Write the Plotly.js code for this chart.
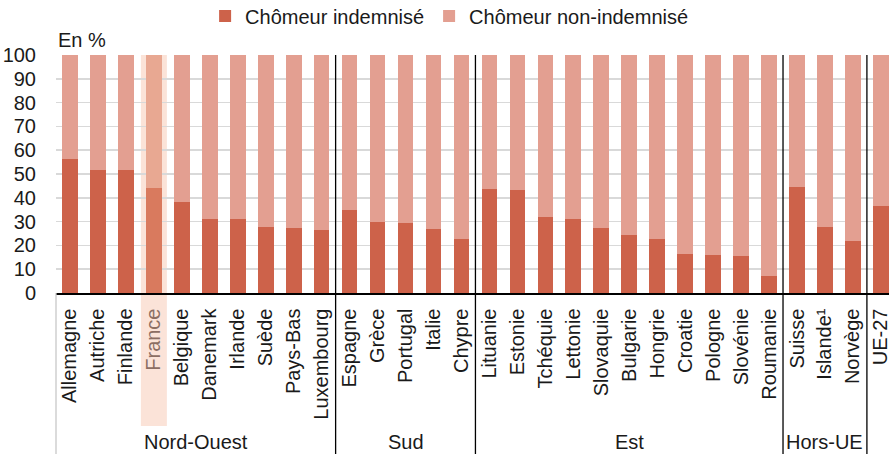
<!DOCTYPE html>
<html>
<head>
<meta charset="utf-8">
<script src="https://cdn.plot.ly/plotly-3.0.1.min.js"></script>
<style>html,body{margin:0;padding:0;background:#fff;}#chart{width:889px;height:454px;}</style>
</head>
<body>
<div id="chart"></div>
<script>
// Categories (countries), in display order
const countries = ["Allemagne","Autriche","Finlande","France","Belgique","Danemark","Irlande","Suède","Pays-Bas","Luxembourg",
  "Espagne","Grèce","Portugal","Italie","Chypre",
  "Lituanie","Estonie","Tchéquie","Lettonie","Slovaquie","Bulgarie","Hongrie","Croatie","Pologne","Slovénie","Roumanie",
  "Suisse","Islande¹","Norvège","UE-27"];
// Share of unemployed receiving benefits (%)
const indemnise = [56.4,51.7,51.7,44.3,38.4,31.3,31.3,27.8,27.4,26.6,
  35.0,29.9,29.5,27.1,22.8,
  43.8,43.2,32.0,31.3,27.4,24.5,22.8,16.2,16.1,15.5,7.3,
  44.6,27.9,21.7,36.5];
// Share of unemployed not receiving benefits (%)
const nonIndemnise = [43.6,48.3,48.3,55.7,61.6,68.7,68.7,72.2,72.6,73.4,
  65.0,70.1,70.5,72.9,77.2,
  56.2,56.8,68.0,68.7,72.6,75.5,77.2,83.8,83.9,84.5,92.7,
  55.4,72.1,78.3,63.5];
// Groups: name, first index, last index
const groupNames = ["Nord-Ouest","Sud","Est","Hors-UE"];
const groupStart = [0,10,15,26];
const groupEnd = [9,14,25,28];
const highlighted = "France";

const FONT = "Liberation Sans, Arial, sans-serif";
const FS = 20;
const C_IND = "#CD624A", C_NON = "#E39F91";
const C_IND_H = "#D97A5E", C_NON_H = "#E8A892";
const hiIdx = countries.indexOf(highlighted);

const colInd = countries.map(c => c === highlighted ? C_IND_H : C_IND);
const colNon = countries.map(c => c === highlighted ? C_NON_H : C_NON);
const tickText = countries.map(c => c === highlighted ? '<span style="color:#8C6E63">' + c + '</span>' : c);

const traces = [
  {type:"bar", name:"Chômeur indemnisé", x:countries, y:indemnise, marker:{color:colInd}, hoverinfo:"x+y"},
  {type:"bar", name:"Chômeur non-indemnisé", x:countries, y:nonIndemnise, marker:{color:colNon}, hoverinfo:"x+y"}
];

const bottomPaper = -0.676;
const shapes = [];
// highlight band for France
shapes.push({type:"rect", xref:"x", yref:"paper", x0:hiIdx-0.465, x1:hiIdx+0.465, y0:-0.559, y1:1,
  fillcolor:"#FBE3D8", line:{width:0}, layer:"between"});
// separators between groups
const seps = groupEnd.map(e => e + 0.5);
seps.forEach(s => shapes.push({type:"line", xref:"x", yref:"paper", x0:s, x1:s, y0:bottomPaper, y1:1,
  line:{color:"#000", width:1.3}, layer:"above"}));
// left light line below axis
shapes.push({type:"line", xref:"paper", yref:"paper", x0:0, x1:0, y0:bottomPaper, y1:0,
  line:{color:"#C8C8C8", width:1.3}, layer:"above"});

const annotations = groupNames.map((g,i) => ({
  text:g, xref:"x", yref:"paper", x:(groupStart[i]+groupEnd[i])/2, y:-0.626,
  showarrow:false, xanchor:"center", yanchor:"middle", font:{family:FONT, size:FS, color:"#1a1a1a"}
}));
annotations.push({text:"En %", xref:"paper", yref:"paper", x:0, y:1, xshift:0, yshift:15,
  showarrow:false, xanchor:"left", yanchor:"middle", font:{family:FONT, size:FS, color:"#1a1a1a"}});

const layout = {
  width:889, height:454,
  margin:{l:56, r:0, t:55, b:161, autoexpand:false},
  paper_bgcolor:"#fff", plot_bgcolor:"#fff",
  barmode:"stack", bargap:0.44,
  font:{family:FONT, size:FS, color:"#1a1a1a"},
  showlegend:true,
  legend:{orientation:"h", x:0.179, xanchor:"left", y:1.164, yanchor:"middle",
    font:{family:FONT, size:FS, color:"#1a1a1a"}, traceorder:"normal", bgcolor:"rgba(0,0,0,0)"},
  xaxis:{type:"category", range:[-0.5, 29.29], tickangle:-90, tickvals:countries, ticktext:tickText,
    showgrid:false, showline:true, linecolor:"#000", linewidth:1.5, ticks:"", ticklabelstandoff:6,
    tickfont:{family:FONT, size:FS, color:"#1a1a1a"}, fixedrange:true, automargin:false},
  yaxis:{range:[0,100], dtick:10, showgrid:true, gridcolor:"#D9D9D9", gridwidth:1.5, zeroline:false,
    showline:false, ticks:"", ticklabelstandoff:19, tickfont:{family:FONT, size:FS, color:"#1a1a1a"}, fixedrange:true, automargin:false},
  shapes:shapes, annotations:annotations
};

Plotly.newPlot("chart", traces, layout, {displayModeBar:false, staticPlot:true});
</script>
</body>
</html>
